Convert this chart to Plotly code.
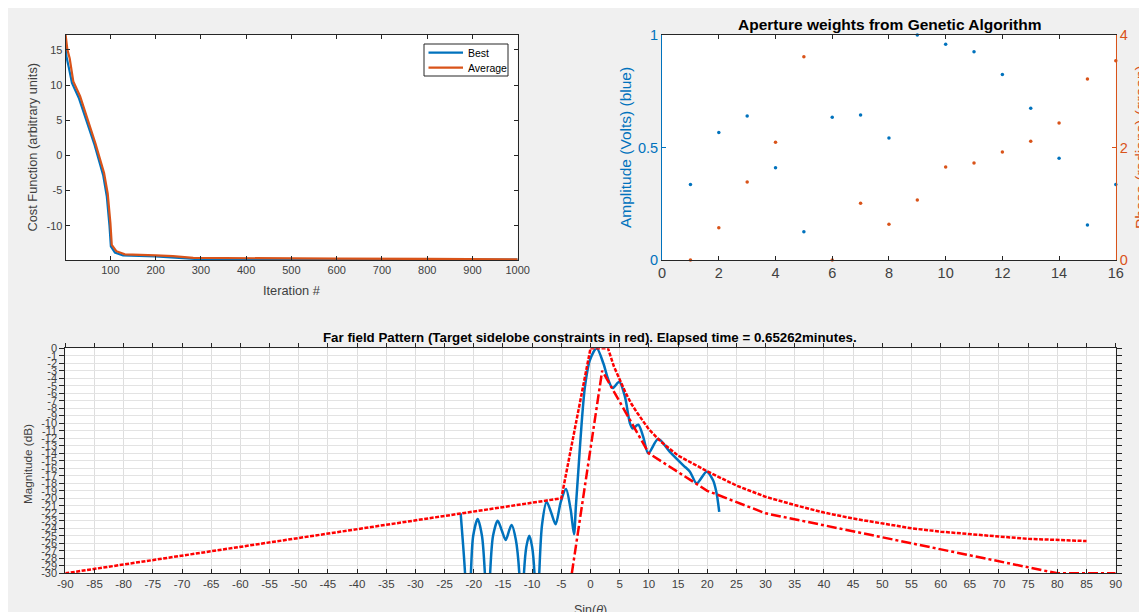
import plotly.graph_objects as go

# page is offset by the 8px body margin; figure fills the rest of the 1147x612 window
OFF = 8
W, H = 1147 - OFF, 612 - OFF

# ---------------- Top-left: cost function convergence ----------------
best_iter = [1, 3, 8, 15, 30, 45, 65, 84, 92, 98, 101, 110, 128, 200, 240, 270, 300, 500, 1000]
best_cost = [15.9, 14.0, 12.5, 10.3, 8.2, 5.3, 1.5, -2.8, -5.8, -10.0, -12.9, -13.8, -14.2, -14.35, -14.5, -14.7, -14.75, -14.78, -14.8]
avg_iter = [1, 5, 10, 18, 33, 48, 67, 86, 94, 100, 103, 113, 132, 200, 238, 283, 400, 600, 800, 1000]
avg_cost = [17.1, 15.0, 13.8, 10.5, 8.4, 5.5, 1.7, -2.5, -5.4, -9.6, -12.7, -13.6, -14.05, -14.2, -14.3, -14.55, -14.62, -14.66, -14.7, -14.75]
legend_names = ["Best", "Average"]

# ---------------- Top-right: aperture weights ----------------
element = list(range(1, 17))
amplitude = [0.336, 0.567, 0.640, 0.410, 0.126, 0.634, 0.644, 0.542, 1.0, 0.959,
             0.926, 0.825, 0.674, 0.452, 0.156, 0.336]
phase = [0.0, 0.575, 1.387, 2.092, 3.615, 0.0, 1.007, 0.634, 1.067, 1.653,
         1.724, 1.92, 2.11, 2.436, 3.218, 3.544]

# ---------------- Bottom: far-field pattern ----------------
pattern_angle = [-22.25, -21.9, -21.5, -21.0, -20.5, -20.1, -19.33, -18.6, -18.1, -17.6,
                 -17.2, -16.7, -15.9, -15.2, -14.54, -13.9, -13.51, -12.8, -12.2, -11.8,
                 -11.4, -11.0, -10.49, -10.0, -9.6, -9.2, -8.78, -8.3, -7.51, -6.7,
                 -5.97, -5.1, -4.2, -3.4, -2.83, -2.5, -2.1, -1.52, -0.95, -0.1,
                 1.06, 2.2, 3.05, 3.8, 4.93, 5.9, 6.76, 7.22, 8.18, 9.04,
                 9.9, 11.6, 13.6, 15.9, 17.04, 18.2, 19.9, 21.0, 21.6, 22.06]
pattern_db = [-22.0, -25.5, -30, -40, -30, -25, -22.76, -25, -30, -40,
              -30, -25, -22.98, -24.3, -25.56, -24.2, -23.56, -25.5, -30, -40,
              -30, -26.5, -24.98, -26.5, -30, -40, -30, -23.5, -20.45, -22,
              -23.47, -20.5, -18.76, -21.5, -24.8, -21, -16.5, -10, -5.1, -1.56,
              0, -2, -4.2, -5.3, -4.45, -6.45, -10, -10.7, -10.2, -11.8,
              -14, -12.1, -13.8, -15.6, -16.45, -18, -16.45, -17.6, -19.3, -21.8]

upper_angle = [-90, -5, 0, 3, 4, 5, 6, 7, 8, 10, 12, 15, 20, 25, 30, 35, 40, 45,
               50, 55, 60, 65, 70, 75, 80, 85]
upper_db = [-30, -20, 0, 0, -2.4, -4.2, -5.9, -7.4, -8.6, -10.8, -12.4, -14.3, -16.4,
            -18.3, -19.8, -20.9, -21.9, -22.7, -23.4, -24.0, -24.45, -24.8, -25.1,
            -25.4, -25.6, -25.7]

lower_angle = [-3.2, 2, 10, 20, 30, 80, 90]
lower_db = [-30, -3, -14, -19, -22, -30, -30]

tl_xticks = [100, 200, 300, 400, 500, 600, 700, 800, 900, 1000]
tl_yticks = [-10, -5, 0, 5, 10, 15]
x_ticks_bottom = list(range(-90, 91, 5))
y_ticks_bottom = list(range(0, -31, -1))

BLUE = "#0072BD"
ORANGE = "#D95319"
AX = "#262626"
TXT = "#404040"
FONT = "Liberation Sans, Arial, Helvetica, sans-serif"


def dx(p):  # page pixel -> paper x
    return (p - OFF) / W


def dy(p):  # page pixel -> paper y
    return 1 - (p - OFF) / H


def lab(vals):
    return [("%g" % v) for v in vals]


fig = go.Figure()

# top-left
fig.add_trace(go.Scatter(x=best_iter, y=best_cost, mode="lines", name=legend_names[0],
                         line=dict(color=BLUE, width=2.2), xaxis="x", yaxis="y"))
fig.add_trace(go.Scatter(x=avg_iter, y=avg_cost, mode="lines", name=legend_names[1],
                         line=dict(color=ORANGE, width=2.2), xaxis="x", yaxis="y"))

# top-right
fig.add_trace(go.Scatter(x=element, y=amplitude, mode="markers",
                         marker=dict(color=BLUE, size=3.5), xaxis="x2", yaxis="y2",
                         cliponaxis=False))
fig.add_trace(go.Scatter(x=element, y=phase, mode="markers",
                         marker=dict(color=ORANGE, size=3.5), xaxis="x2", yaxis="y3",
                         cliponaxis=False))

# bottom
fig.add_trace(go.Scatter(x=pattern_angle, y=pattern_db, mode="lines",
                         line=dict(color=BLUE, width=2.5, shape="spline", smoothing=0.8),
                         xaxis="x3", yaxis="y4"))
fig.add_trace(go.Scatter(x=upper_angle, y=upper_db, mode="lines",
                         line=dict(color="#FF0000", width=2.5, dash="4px,1.5px"),
                         xaxis="x3", yaxis="y4"))
fig.add_trace(go.Scatter(x=lower_angle, y=lower_db, mode="lines",
                         line=dict(color="#FF0000", width=2.5, dash="10px,3px,3px,3px"),
                         xaxis="x3", yaxis="y4"))
fig.add_trace(go.Scatter(x=[], y=[], xaxis="x4", yaxis="y4"))

tl_x = [dx(65.6), dx(517.7)]
tr_x = [dx(662.1), dx(1115.8)]
top_y = [dy(260), dy(35)]
bt_x = [dx(65.3), dx(1115.7)]
bt_y = [dy(573.3), dy(348.3)]

common = dict(showgrid=False, zeroline=False, showline=True, linecolor=AX, linewidth=1,
              automargin=False, tickcolor=AX)

fig.update_layout(
    width=W, height=H,
    margin=dict(l=0, r=0, t=0, b=0),
    paper_bgcolor="#F0F0F0",
    plot_bgcolor="white",
    font=dict(family=FONT, color=TXT),
    showlegend=False,
    xaxis=dict(domain=tl_x, anchor="y", range=[1, 1000],
               tickvals=tl_xticks, ticktext=lab(tl_xticks),
               ticks="inside", ticklen=4, mirror="ticks",
               tickfont=dict(size=11, color=TXT), **common),
    yaxis=dict(domain=top_y, anchor="x", range=[-14.85, 17.1],
               tickvals=tl_yticks, ticktext=lab(tl_yticks),
               ticks="inside", ticklen=4, mirror="ticks",
               tickfont=dict(size=11, color=TXT), **common),
    xaxis2=dict(domain=tr_x, anchor="y2", range=[0, 16], tickvals=list(range(0, 17, 2)),
                ticks="inside", ticklen=4, mirror="ticks",
                tickfont=dict(size=14.5, color=TXT), **common),
    yaxis2=dict(domain=top_y, anchor="x2", range=[0, 1], tickvals=[0, 0.5, 1],
                ticktext=["0", "0.5", "1"],
                ticks="inside", ticklen=4, showgrid=False, zeroline=False, showline=True,
                linecolor=BLUE, tickcolor=BLUE, automargin=False,
                tickfont=dict(size=14.5, color=BLUE)),
    yaxis3=dict(overlaying="y2", side="right", anchor="x2", range=[0, 4], tickvals=[0, 2, 4],
                ticks="inside", ticklen=4, showgrid=False, zeroline=False, showline=True,
                linecolor=ORANGE, tickcolor=ORANGE, automargin=False,
                tickfont=dict(size=14.5, color=ORANGE)),
    xaxis3=dict(domain=bt_x, anchor="y4", range=[-90, 90], tickvals=x_ticks_bottom,
                ticktext=lab(x_ticks_bottom),
                ticks="inside", ticklen=4, showgrid=True, gridcolor="#DEDEDE", gridwidth=1,
                zeroline=False, showline=True, linecolor=AX, mirror=True, tickcolor=AX,
                automargin=False, tickfont=dict(size=11.5, color=TXT)),
    xaxis4=dict(overlaying="x3", side="top", anchor="y4", range=[-90, 90],
                tickvals=x_ticks_bottom, showticklabels=False, ticks="outside", ticklen=4,
                tickcolor=AX, showgrid=False, zeroline=False, showline=False,
                automargin=False),
    yaxis4=dict(domain=bt_y, anchor="x3", range=[-30, 0], tickvals=y_ticks_bottom,
                ticktext=lab(y_ticks_bottom),
                ticks="outside", ticklen=5, mirror="ticks", showgrid=True,
                gridcolor="#E3E3E3", gridwidth=1, zeroline=False, showline=True,
                linecolor=AX, tickcolor=AX, automargin=False,
                tickfont=dict(size=11, color=TXT)),
)

# legend box for the top-left axes (MATLAB style)
shapes = [
    dict(type="rect", xref="paper", yref="paper", x0=dx(424), x1=dx(508), y0=dy(76), y1=dy(44),
         fillcolor="white", line=dict(color=AX, width=1)),
    dict(type="line", xref="paper", yref="paper", x0=dx(428.5), x1=dx(463), y0=dy(52.7), y1=dy(52.7),
         line=dict(color=BLUE, width=2.2)),
    dict(type="line", xref="paper", yref="paper", x0=dx(428.5), x1=dx(463), y0=dy(67.7), y1=dy(67.7),
         line=dict(color=ORANGE, width=2.2)),
]
fig.update_layout(shapes=shapes)

ann = [
    dict(text=legend_names[0], x=dx(465.5), y=dy(53), xanchor="left",
         font=dict(size=10.5, color="#000000")),
    dict(text=legend_names[1], x=dx(465.5), y=dy(68), xanchor="left",
         font=dict(size=10.5, color="#000000")),
    dict(text="Cost Function (arbitrary units)", x=dx(32), y=dy(147.5), textangle=-90,
         font=dict(size=12.8, color=TXT)),
    dict(text="Iteration #", x=dx(291.5), y=dy(290.5), font=dict(size=12.8, color=TXT)),
    dict(text="<b>Aperture weights from Genetic Algorithm</b>", x=dx(889), y=dy(24),
         font=dict(size=15.5, color="#000000")),
    dict(text="Amplitude (Volts) (blue)", x=dx(625.5), y=dy(147.5), textangle=-90,
         font=dict(size=15.5, color=BLUE)),
    dict(text="Phase (radians) (green)", x=dx(1140.5), y=dy(147.5), textangle=-90,
         font=dict(size=15.5, color=ORANGE)),
    dict(text="<b>Far field Pattern (Target sidelobe constraints in red). Elapsed time = 0.65262minutes.</b>",
         x=dx(590), y=dy(337.5), font=dict(size=13.3, color="#000000")),
    dict(text="Magnitude (dB)", x=dx(27), y=dy(464), textangle=-90,
         font=dict(size=11.7, color=TXT)),
    dict(text="Sin(<i>θ</i>)", x=dx(590), y=dy(610), font=dict(size=12.5, color=TXT)),
]
for a in ann:
    a.setdefault("xanchor", "center")
    a.update(xref="paper", yref="paper", showarrow=False, yanchor="middle")
fig.update_layout(annotations=ann)

fig.write_html("out.html")
